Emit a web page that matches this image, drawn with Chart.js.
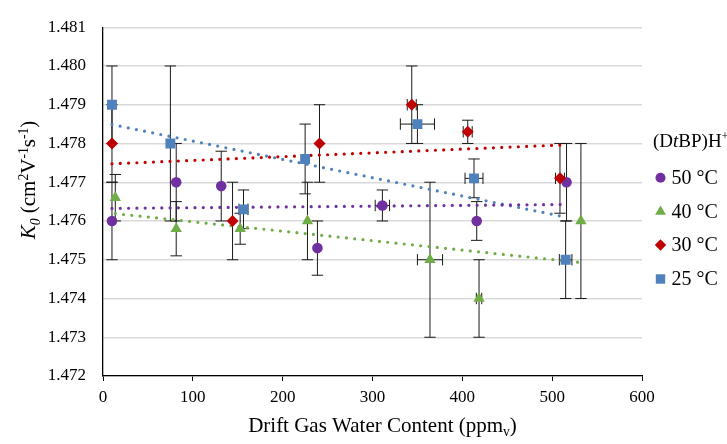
<!DOCTYPE html>
<html>
<head>
<meta charset="utf-8">
<script src="https://cdn.jsdelivr.net/npm/chart.js@4/dist/chart.umd.min.js"></script>
<style>
  html, body { margin: 0; padding: 0; background: #fff; }
  #wrap { width: 727px; height: 444px; position: relative; }
</style>
</head>
<body>
<div id="wrap"><canvas id="k0Chart"></canvas></div>
<script>
// Values
const seriesNames = ['50 °C', '40 °C', '30 °C', '25 °C'];

const water50 = [10, 81.5, 131.6, 238.7, 311, 416, 516];
const k50     = [1.4760, 1.4770, 1.4769, 1.4753, 1.4764, 1.4760, 1.4770];
const yErr50  = [0.0010, 0.0010, 0.0009, 0.0007, 0.0004, 0.0005, 0.0010];
const xErr50  = [0, 0, 0, 0, 8, 0, 0];

const water40 = [13.7, 81.5, 152.7, 227.6, 364, 418.6, 532];
const k40     = [1.4766, 1.4758, 1.4758, 1.4760, 1.4750, 1.4740, 1.4760];
const yErr40  = [0.0006, 0.0007, 0.0004, 0.0010, 0.0020, 0.0010, 0.0020];
const xErr40  = [0, 0, 0, 0, 14, 3, 0];

const water30 = [10, 144.2, 241, 343.7, 406, 508.7];
const k30     = [1.4780, 1.4760, 1.4780, 1.4790, 1.4783, 1.4771];
const yErr30  = [0.0010, 0.0010, 0.0010, 0.0010, 0.0003, 0.0009];
const xErr30  = [0, 0, 0, 5, 5, 5];

const water25 = [10, 75, 156.4, 225, 350, 413, 515];
const k25     = [1.4790, 1.4780, 1.4763, 1.4776, 1.4785, 1.4771, 1.4750];
const yErr25  = [0.0010, 0.0020, 0.0005, 0.0009, 0.0005, 0.0005, 0.0010];
const xErr25  = [0, 0, 5, 0, 19, 10, 7];

const xTicks = [0, 100, 200, 300, 400, 500, 600];
const yTicks = [1.472, 1.473, 1.474, 1.475, 1.476, 1.477, 1.478, 1.479, 1.480, 1.481];

const FONT = "'Liberation Serif', 'Times New Roman', serif";

const series = [
    { name: seriesNames[0], x: water50, k: k50, ye: yErr50, xe: xErr50, color: '#7030A0', style: 'circle', r: 5.3 },
    { name: seriesNames[1], x: water40, k: k40, ye: yErr40, xe: xErr40, color: '#70AD47', style: 'triangle', r: 6.6 },
    { name: seriesNames[2], x: water30, k: k30, ye: yErr30, xe: xErr30, color: '#C00000', style: 'rectRot', r: 6 },
    { name: seriesNames[3], x: water25, k: k25, ye: yErr25, xe: xErr25, color: '#4F81BD', style: 'rect', r: 7 }
];

// least squares line over the range of each series
function linearFit(xs, ys) {
    const n = xs.length;
    const mx = xs.reduce((a, b) => a + b, 0) / n;
    const my = ys.reduce((a, b) => a + b, 0) / n;
    let sxy = 0, sxx = 0;
    for (let i = 0; i < n; i++) {
        sxy += (xs[i] - mx) * (ys[i] - my);
        sxx += (xs[i] - mx) * (xs[i] - mx);
    }
    const slope = sxy / sxx;
    const x0 = Math.min(...xs), x1 = Math.max(...xs);
    return [{ x: x0, y: my + slope * (x0 - mx) }, { x: x1, y: my + slope * (x1 - mx) }];
}

const datasets = [];
series.forEach((s, idx) => {
    datasets.push({
        label: s.name,
        data: s.x.map((v, i) => ({ x: v, y: s.k[i] })),
        showLine: false,
        pointStyle: s.style,
        pointRadius: s.r,
        pointHoverRadius: s.r,
        backgroundColor: s.color,
        borderColor: s.color,
        borderWidth: 0,
        order: 4 - idx
    });
});
series.forEach(s => {
    datasets.push({
        label: s.name + ' trend',
        data: linearFit(s.x, s.k),
        showLine: true,
        pointRadius: 0,
        borderColor: s.color,
        borderWidth: 3.2,
        borderDash: [0, 8.3],
        borderCapStyle: 'round',
        fill: false,
        order: 10
    });
});

function seg(ctx, x1, y1, x2, y2) {
    ctx.beginPath();
    ctx.moveTo(x1, y1);
    ctx.lineTo(x2, y2);
    ctx.stroke();
}

// error bars, drawn under the markers
const errorBars = {
    id: 'errorBars',
    beforeDatasetsDraw(chart) {
        const { ctx, scales: { x, y } } = chart;
        const cap = 5.7;
        ctx.save();
        ctx.strokeStyle = '#1a1a1a';
        ctx.lineWidth = 1;
        series.forEach(s => {
            s.x.forEach((xv, i) => {
                const px = x.getPixelForValue(xv);
                const py = y.getPixelForValue(s.k[i]);
                if (s.ye[i]) {
                    const top = y.getPixelForValue(s.k[i] + s.ye[i]);
                    const bot = y.getPixelForValue(s.k[i] - s.ye[i]);
                    seg(ctx, px, top, px, bot);
                    seg(ctx, px - cap, top, px + cap, top);
                    seg(ctx, px - cap, bot, px + cap, bot);
                }
                if (s.xe[i]) {
                    const l = x.getPixelForValue(xv - s.xe[i]);
                    const r = x.getPixelForValue(xv + s.xe[i]);
                    seg(ctx, l, py, r, py);
                    seg(ctx, l, py - cap, l, py + cap);
                    seg(ctx, r, py - cap, r, py + cap);
                }
            });
        });
        ctx.restore();
    }
};

// draw runs of text with italic / sub / superscript parts
function richWidth(ctx, parts, size) {
    let w = 0;
    parts.forEach(p => {
        const sz = p.sub || p.sup ? size * 0.65 : size;
        ctx.font = (p.it ? 'italic ' : '') + sz + 'px ' + FONT;
        w += ctx.measureText(p.t).width;
    });
    return w;
}
function drawRich(ctx, parts, size, x, y) {
    let cx = x;
    parts.forEach(p => {
        const sz = p.sub || p.sup ? size * 0.65 : size;
        ctx.font = (p.it ? 'italic ' : '') + sz + 'px ' + FONT;
        let dy = 0;
        if (p.sub) dy = size * 0.22;
        if (p.sup) dy = -size * 0.35;
        ctx.fillText(p.t, cx, y + dy);
        cx += ctx.measureText(p.t).width;
    });
}

function drawMarker(ctx, style, r, x, y, color) {
    ctx.fillStyle = color;
    ctx.beginPath();
    if (style === 'circle') {
        ctx.arc(x, y, r, 0, Math.PI * 2);
    } else if (style === 'triangle') {
        ctx.moveTo(x, y - r);
        ctx.lineTo(x + r * 0.866, y + r * 0.5);
        ctx.lineTo(x - r * 0.866, y + r * 0.5);
    } else if (style === 'rectRot') {
        ctx.moveTo(x, y - r); ctx.lineTo(x + r, y); ctx.lineTo(x, y + r); ctx.lineTo(x - r, y);
    } else {
        const h = r * Math.SQRT1_2;
        ctx.rect(x - h, y - h, 2 * h, 2 * h);
    }
    ctx.closePath();
    ctx.fill();
}

const titlesAndLegend = {
    id: 'titlesAndLegend',
    afterDraw(chart) {
        const ctx = chart.ctx;
        ctx.save();
        ctx.fillStyle = '#000';
        ctx.textBaseline = 'alphabetic';
        ctx.textAlign = 'left';

        // x axis title
        const xParts = [{ t: 'Drift Gas Water Content (ppm' }, { t: 'v', sub: true }, { t: ')' }];
        const xw = richWidth(ctx, xParts, 21);
        drawRich(ctx, xParts, 21, 382.5 - xw / 2, 431.5);

        // y axis title
        const yParts = [
            { t: 'K', it: true }, { t: '0', it: true, sub: true }, { t: ' (cm' }, { t: '2', sup: true },
            { t: 'V' }, { t: '-1', sup: true }, { t: 's' }, { t: '-1', sup: true }, { t: ')' }
        ];
        const yw = richWidth(ctx, yParts, 21);
        ctx.save();
        ctx.translate(35, 180);
        ctx.rotate(-Math.PI / 2);
        drawRich(ctx, yParts, 21, -yw / 2, 0);
        ctx.restore();

        // legend
        ctx.fillStyle = '#000';
        const tParts = [{ t: '(D' }, { t: 't', it: true }, { t: 'BP)H' }, { t: '+', sup: true }];
        drawRich(ctx, tParts, 19, 653, 146.5);
        const rows = [177.7, 211.7, 245, 279];
        series.forEach((s, i) => {
            drawMarker(ctx, s.style, s.r * 0.95, 660.5, rows[i], s.color);
            ctx.fillStyle = '#000';
            ctx.font = '20px ' + FONT;
            ctx.textBaseline = 'middle';
            ctx.fillText(s.name, 671.5, rows[i] + 1);
            ctx.textBaseline = 'alphabetic';
        });
        ctx.restore();
    }
};

new Chart(document.getElementById('k0Chart'), {
    type: 'scatter',
    data: { datasets: datasets },
    options: {
        responsive: true,
        maintainAspectRatio: false,
        animation: false,
        layout: { padding: { left: 0, right: 85, top: 19, bottom: 0 } },
        plugins: {
            legend: { display: false },
            tooltip: { enabled: false }
        },
        scales: {
            x: {
                type: 'linear',
                min: 0,
                max: 600,
                afterBuildTicks: axis => { axis.ticks = xTicks.map(v => ({ value: v })); },
                afterFit: axis => { axis.height = 68; },
                grid: { drawOnChartArea: false, drawTicks: true, tickLength: 5, color: '#000', lineWidth: 1 },
                border: { color: '#000', width: 1.3 },
                ticks: { padding: 6, color: '#000', font: { family: FONT, size: 17 } }
            },
            y: {
                type: 'linear',
                min: 1.472,
                max: 1.481,
                afterBuildTicks: axis => { axis.ticks = yTicks.map(v => ({ value: v })); },
                afterFit: axis => { axis.width = 103; },
                grid: { color: '#d9d9d9', lineWidth: 1.4, drawTicks: false },
                border: { color: '#000', width: 1.3 },
                ticks: {
                    padding: 17,
                    color: '#000',
                    font: { family: FONT, size: 17 },
                    callback: v => v.toFixed(3)
                }
            }
        }
    },
    plugins: [errorBars, titlesAndLegend]
});
</script>
</body>
</html>
